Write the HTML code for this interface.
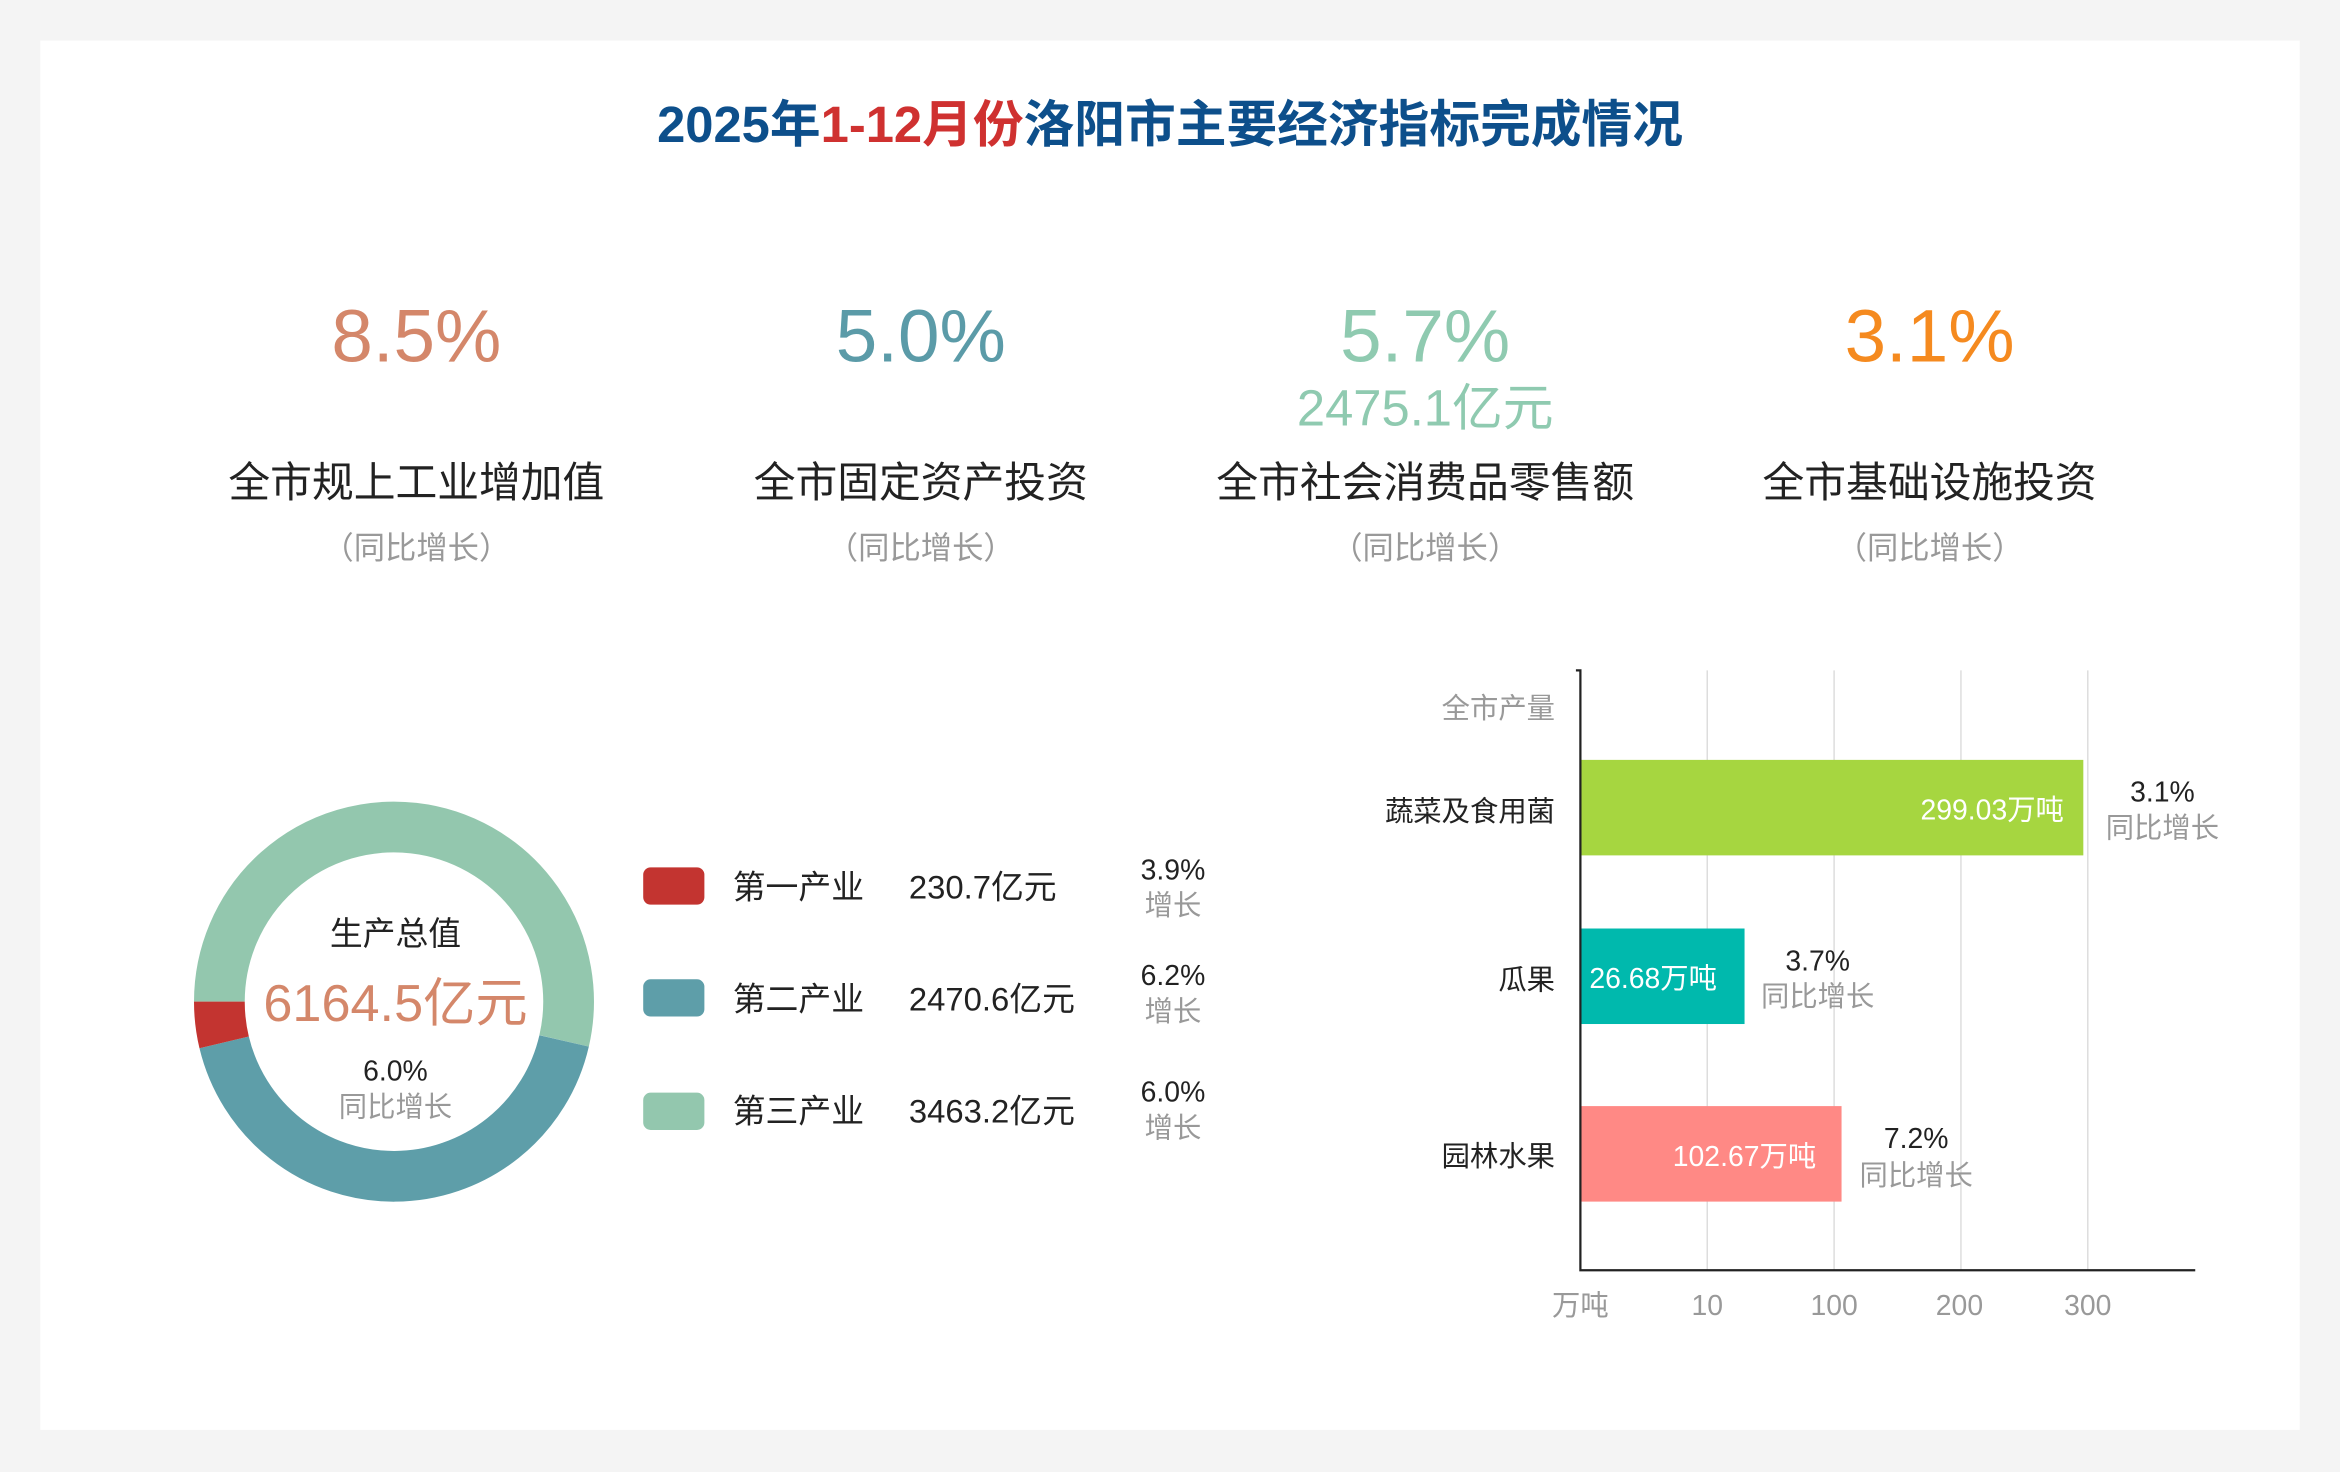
<!DOCTYPE html>
<html><head><meta charset="utf-8"><style>
html,body{margin:0;padding:0;background:#f4f4f4;}
svg{display:block;}
text{font-family:"Liberation Sans","Noto Sans CJK SC",sans-serif;}
</style></head><body>
<svg width="2340" height="1472" viewBox="0 0 1568 986" xmlns="http://www.w3.org/2000/svg">
<rect width="1568" height="986" fill="#f4f4f4"/>
<rect x="27" y="27" width="1514" height="931" fill="#fff"/>
<text x="784" y="95" text-anchor="middle" font-size="34" font-weight="bold" fill="#0d4f8b">2025年<tspan fill="#cf3130">1-12月份</tspan>洛阳市主要经济指标完成情况</text>

<g text-anchor="middle">
<text x="279" y="242" font-size="50" fill="#d4876a">8.5%</text>
<text x="617" y="242" font-size="50" fill="#5b9ba8">5.0%</text>
<text x="955" y="242" font-size="50" fill="#8fcab0">5.7%</text>
<text x="1293" y="242" font-size="50" fill="#f58a1f">3.1%</text>
<text x="955" y="285" font-size="34" fill="#8fcab0">2475.1亿元</text>
<g font-size="28" fill="#222">
<text x="279" y="333">全市规上工业增加值</text>
<text x="617" y="333">全市固定资产投资</text>
<text x="955" y="333">全市社会消费品零售额</text>
<text x="1293" y="333">全市基础设施投资</text>
</g>
<g font-size="21" fill="#999">
<text x="279" y="374">（同比增长）</text>
<text x="617" y="374">（同比增长）</text>
<text x="955" y="374">（同比增长）</text>
<text x="1293" y="374">（同比增长）</text>
</g>
</g>

<g fill="none" stroke-width="34">
<path d="M147,671 A117,117 0 1 1 378,697.3" stroke="#93c7ae"/>
<path d="M378,697.3 A117,117 0 0 1 150.2,698.3" stroke="#5e9ea9"/>
<path d="M150.2,698.3 A117,117 0 0 1 147,671" stroke="#c33430"/>
</g>
<g text-anchor="middle">
<text x="265" y="633" font-size="22" fill="#222">生产总值</text>
<text x="265" y="684" font-size="35" fill="#d4876a">6164.5亿元</text>
<text x="265" y="724" font-size="19" fill="#222">6.0%</text>
<text x="265" y="748" font-size="19" fill="#999">同比增长</text>
</g>
<rect x="431" y="581" width="41" height="25" rx="5" fill="#c33430"/>
<rect x="431" y="656" width="41" height="25" rx="5" fill="#5e9ea9"/>
<rect x="431" y="732" width="41" height="25" rx="5" fill="#93c7ae"/>
<g font-size="22" fill="#222">
<text x="491" y="602">第一产业</text><text x="609" y="602">230.7亿元</text>
<text x="491" y="677">第二产业</text><text x="609" y="677">2470.6亿元</text>
<text x="491" y="752">第三产业</text><text x="609" y="752">3463.2亿元</text>
</g>
<g text-anchor="middle" font-size="19">
<text x="786" y="589" fill="#222">3.9%</text><text x="786" y="613" fill="#999">增长</text>
<text x="786" y="660" fill="#222">6.2%</text><text x="786" y="684" fill="#999">增长</text>
<text x="786" y="738" fill="#222">6.0%</text><text x="786" y="762" fill="#999">增长</text>
</g>

<g stroke="#ddd" stroke-width="1">
<line x1="1144" y1="449" x2="1144" y2="851"/><line x1="1229" y1="449" x2="1229" y2="851"/>
<line x1="1314" y1="449" x2="1314" y2="851"/><line x1="1399" y1="449" x2="1399" y2="851"/>
</g>
<rect x="1059" y="509" width="337" height="64" fill="#a6d640"/>
<rect x="1059" y="622" width="110" height="64" fill="#00b9ad"/>
<rect x="1059" y="741" width="175" height="64" fill="#ff8985"/>
<g stroke="#222" stroke-width="1.5" fill="none">
<path d="M1056,449 H1059 V851 H1471"/>
</g>
<g font-size="19" text-anchor="end">
<text x="1042" y="481" fill="#999">全市产量</text>
<text x="1042" y="550" fill="#222">蔬菜及食用菌</text>
<text x="1042" y="663" fill="#222">瓜果</text>
<text x="1042" y="781" fill="#222">园林水果</text>
<text x="1383" y="549" fill="#fff">299.03万吨</text>
<text x="1217" y="781" fill="#fff">102.67万吨</text>
</g>
<text x="1065" y="662" font-size="19" fill="#fff">26.68万吨</text>
<g font-size="19" text-anchor="middle">
<text x="1449" y="537" fill="#222">3.1%</text><text x="1449" y="561" fill="#999">同比增长</text>
<text x="1218" y="650" fill="#222">3.7%</text><text x="1218" y="674" fill="#999">同比增长</text>
<text x="1284" y="769" fill="#222">7.2%</text><text x="1284" y="794" fill="#999">同比增长</text>
<g fill="#999">
<text x="1059" y="881">万吨</text><text x="1144" y="881">10</text><text x="1229" y="881">100</text>
<text x="1313" y="881">200</text><text x="1399" y="881">300</text>
</g>
</g>
</svg>
</body></html>
